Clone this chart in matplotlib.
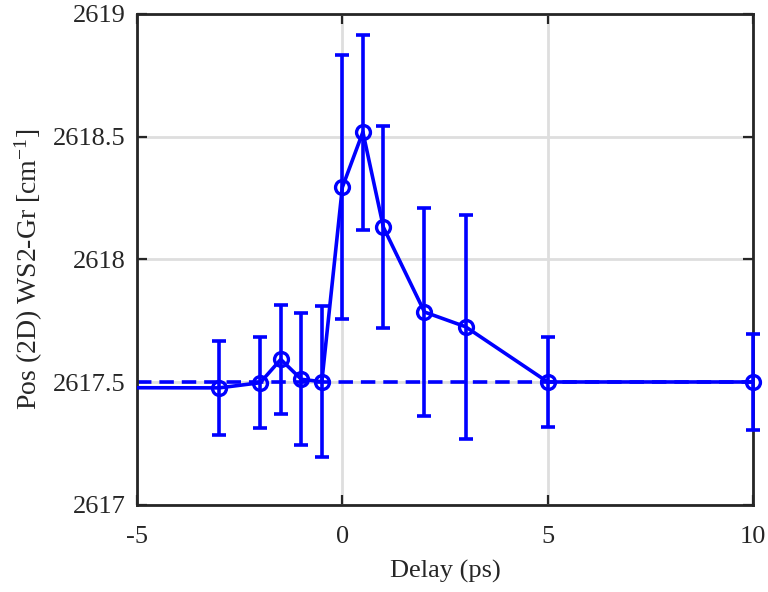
import matplotlib
matplotlib.use("Agg")
import matplotlib.pyplot as plt

plt.rcParams['font.family'] = ['Liberation Serif', 'DejaVu Serif']
plt.rcParams['mathtext.default'] = 'regular'

# data (first point lies left of the visible range)
delay = [-10, -3, -2, -1.5, -1, -0.5, 0, 0.5, 1, 2, 3, 5, 10]
pos = [2617.479, 2617.477, 2617.498, 2617.593, 2617.512, 2617.502, 2618.294,
       2618.519, 2618.131, 2617.786, 2617.726, 2617.501, 2617.501]
err = [0.20, 0.19, 0.186, 0.222, 0.268, 0.308, 0.538,
       0.397, 0.412, 0.422, 0.456, 0.184, 0.194]
baseline = 2617.5

x_ticks = [-5, 0, 5, 10]
x_ticklabels = ['-5', '0', '5', '10']
y_ticks = [2617, 2617.5, 2618, 2618.5, 2619]
y_ticklabels = ['2617', '2617.5', '2618', '2618.5', '2619']

blue = '#0000ff'
fig = plt.figure(figsize=(7.68, 5.92), dpi=100)
ax = fig.add_axes([0.1784, 0.147, 0.8021, 0.8294])

# connecting line stays inside the axes, markers and bars may overhang the edge
ax.plot(delay, pos, color=blue, lw=2.6, zorder=3)
_, caps, bars = ax.errorbar(delay, pos, yerr=err, fmt='none', ecolor=blue,
                            capsize=5, capthick=2.6, elinewidth=2.6, zorder=3)
for c in caps:
    c.set_clip_on(False)
for b in bars:
    b.set_clip_on(False)
ax.plot(delay[1:], pos[1:], linestyle='none', marker='o', markersize=10,
        markerfacecolor='none', markeredgecolor=blue, markeredgewidth=2.4,
        zorder=4, clip_on=False)
ax.axhline(baseline, color=blue, lw=2.6, linestyle=(0, (4, 2.2)), zorder=2)

ax.set_xlim(-5, 10)
ax.set_ylim(2617, 2619)
ax.set_xticks(x_ticks)
ax.set_xticklabels(x_ticklabels)
ax.set_yticks(y_ticks)
ax.set_yticklabels(y_ticklabels)

ax.grid(True, color='#dedede', lw=2)
ax.set_axisbelow(True)
for s in ax.spines.values():
    s.set_color('#262626')
    s.set_linewidth(2)
ax.tick_params(direction='in', length=7, width=1.6, top=True, right=True,
               labelsize=19, colors='#262626')
ax.tick_params(axis='x', pad=15)
ax.tick_params(axis='y', pad=8)

ax.set_xlabel('Delay (ps)', fontsize=19, color='#262626', labelpad=9)
ax.set_ylabel('Pos (2D) WS2-Gr [cm$^{-1}$]', fontsize=20, color='#262626')
ax.yaxis.set_label_coords(-0.149, 0.48)

fig.savefig('out.png', dpi=100)
